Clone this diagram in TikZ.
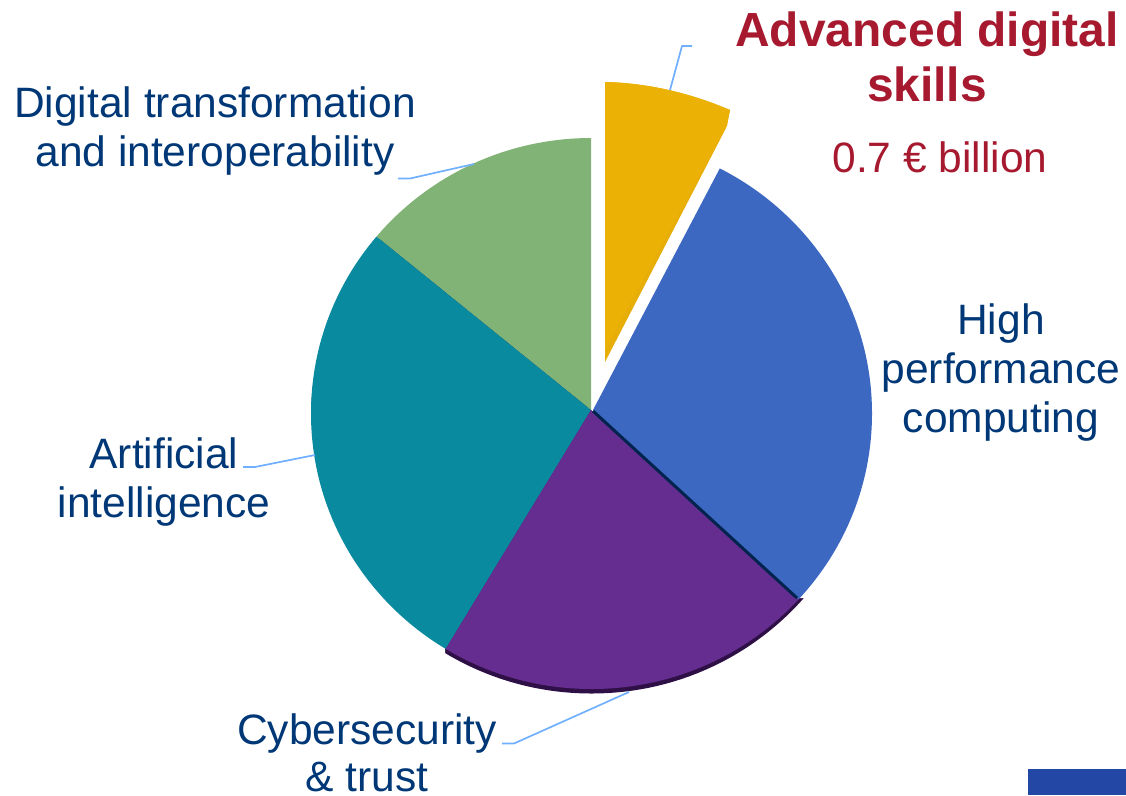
\documentclass[tikz,border=0pt]{standalone}
\usepackage{fontspec}
\setmainfont{Liberation Sans}
\definecolor{navy}{HTML}{003776}
\definecolor{redt}{HTML}{A6192E}
\definecolor{leader}{HTML}{70B0FF}
\definecolor{yel}{HTML}{EBB105}
\definecolor{yeld}{HTML}{E8AE08}
\definecolor{blu}{HTML}{3D68C2}
\definecolor{pur}{HTML}{662D91}
\definecolor{purd}{HTML}{2E1046}
\definecolor{tea}{HTML}{0A8A9F}
\definecolor{gre}{HTML}{82B376}
\definecolor{bar}{HTML}{2347A5}
\tikzset{
  lab/.style={text=navy,align=center,font=\fontsize{42.5}{49}\selectfont,inner sep=0pt},
  leaderline/.style={draw=leader,line width=1.7pt,line join=round},
}
\begin{document}
\begin{tikzpicture}[x=1pt,y=-1pt]
\useasboundingbox (0,0) rectangle (1126,795);
% rim
\fill[purd] (591.5,418) ellipse [x radius=280.5,y radius=275.5];
\fill[white] (300,410) rectangle (445,700);
\fill[white] (591,100) rectangle (880,410);
\fill[white] (591,410) -- (797,598) -- (900,598) -- (900,300) -- cycle;
\fill[white] (445,650) -- (300,420) -- (300,710) -- (445,710) -- cycle;
\begin{scope}
\clip (591.5,413.5) ellipse [x radius=280.5,y radius=275.5];
\fill[gre] (591,410) -- (591,100) -- (340,100) -- (340,205) -- (377,237) -- cycle;
\fill[tea] (591,410) -- (377,237) -- (250,135) -- (250,750) -- (388,750) -- (445,650) -- cycle;
\fill[pur] (591,410) -- (445,650) -- (388,750) -- (900,750) -- (900,690) -- (797,598) -- cycle;
\fill[blu] (593,410) -- (720,168) -- (760,92) -- (900,92) -- (900,700) -- (797,598) -- cycle;
\draw[navy!65!black,line width=3pt] (593,411) -- (797,598);
\end{scope}
% exploded slice
\fill[yeld] (605,362) -- (605,82) .. controls (648,83) and (690,93) .. (730,110) -- (726,128) -- cycle;
\fill[yel] (605,350) -- (605,82) .. controls (648,83) and (690,93) .. (730,110) -- (727,126) -- (725,128) -- cycle;
\fill[bar] (1028,769) rectangle (1126,795);
% labels
\node[text=redt,font=\fontsize{47.9}{55}\selectfont\bfseries,inner sep=0pt,anchor=base] (title) at (927,46) {Advanced digital};
\node[text=redt,font=\fontsize{47.9}{55}\selectfont\bfseries,inner sep=0pt,anchor=base] (title2) at (927,101) {skills};
\node[text=redt,font=\fontsize{42.5}{49}\selectfont,inner sep=0pt,anchor=base] (amount) at (940,172) {0.7 € billion};
\node[lab,anchor=base] (d1) at (215,117) {Digital transformation};
\node[lab,anchor=base] (d2) at (215,166) {and interoperability};
\node[lab,anchor=base] (h1) at (1001,334) {High};
\node[lab,anchor=base] (h2) at (1001,383) {performance};
\node[lab,anchor=base] (h3) at (1001,432) {computing};
\node[lab,anchor=base] (a1) at (164,468) {Artificial};
\node[lab,anchor=base] (a2) at (164,517) {intelligence};
\node[lab,anchor=base] (c1) at (367,744) {Cybersecurity};
\node[lab,anchor=base] (c2) at (367,791) {\&\ trust};
% leaders
\coordinate (ty) at (670,90);
\coordinate (tg) at (474,164);
\coordinate (tt) at (315,455);
\coordinate (tc) at (629,692);
\draw[leaderline] (ty) -- (682,46) -- (692,46);
\draw[leaderline] (tg) -- (410,178.5) -- (398,178.5);
\draw[leaderline] (tt) -- (255,467) -- (243,467);
\draw[leaderline] (tc) -- (514,743.5) -- (502,743.5);
\end{tikzpicture}
\end{document}
